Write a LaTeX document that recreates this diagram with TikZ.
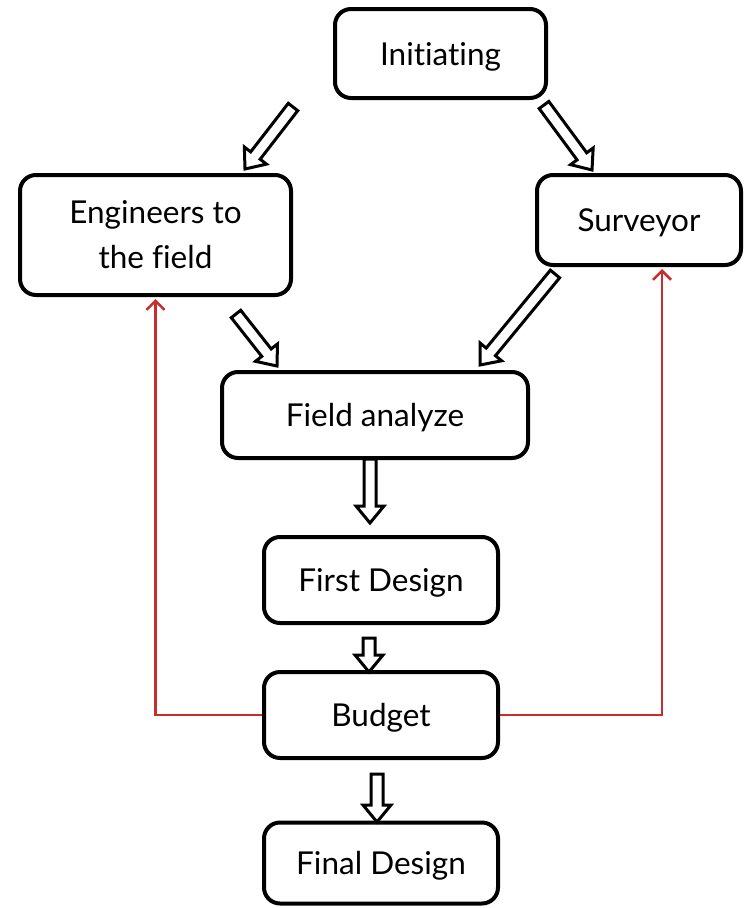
\documentclass[tikz,border=0pt]{standalone}
\usepackage{fontspec}
\setmainfont{Lato}[Ligatures=NoCommon]
\usetikzlibrary{calc,arrows.meta}
\definecolor{fbred}{RGB}{200,45,45}
\newcommand{\hw}{6pt}
\newcommand{\hW}{14pt}
\newcommand{\hh}{17pt}
\newcommand{\hollowarr}[2]{%
  \coordinate (ha-m) at ($(#2)!\hh!(#1)$);
  \draw[hollowarrow] ($(#1)!\hw!90:(#2)$) -- ($(ha-m)!\hw!90:(#2)$) --
    ($(ha-m)!\hW!90:(#2)$) -- (#2) -- ($(ha-m)!\hW!-90:(#2)$) --
    ($(ha-m)!\hw!-90:(#2)$) -- ($(#1)!\hw!-90:(#2)$) -- cycle;
}
\begin{document}
\begin{tikzpicture}[x=1pt,y=-1pt,
  box/.style={draw, line width=4pt, rounded corners=16pt, fill=white,
    align=center, inner sep=0pt, font=\fontsize{31.5}{45}\selectfont},
  oneline/.style={text height=26.5pt, text depth=3.5pt},
  hollowarrow/.style={draw, fill=white, line width=3pt, line join=miter, miter limit=10},
  feedback/.style={draw=fbred, line width=2.5pt, -{Straight Barb[length=9pt,width=18pt]}}]
\useasboundingbox (0,0) rectangle (745,908);
\node[box, oneline, minimum width=211pt, minimum height=89pt] (init) at (440.5,53.5) {Initiating};
\node[box, minimum width=271pt, minimum height=120pt] (eng) at (155.5,235) {Engineers to\\the field};
\node[box, oneline, minimum width=204pt, minimum height=90pt] (surv) at (639,220) {Surveyor};
\node[box, oneline, minimum width=306pt, minimum height=86pt] (field) at (375,415) {Field analyze};
\node[box, oneline, minimum width=234pt, minimum height=86pt] (first) at (381,580) {First Design};
\node[box, oneline, minimum width=234pt, minimum height=86pt] (budget) at (381,715) {Budget};
\node[box, oneline, minimum width=234pt, minimum height=81pt] (final) at (381,863) {Final Design};
% hollow arrow end points
\coordinate (a1s) at (293,107); \coordinate (a1e) at (245,169);
\coordinate (a2s) at (544,105); \coordinate (a2e) at (592,170);
\coordinate (a3s) at (236,314); \coordinate (a3e) at (277,366);
\coordinate (a4s) at (555,274); \coordinate (a4e) at (480,365);
\coordinate (a5s) at (370,459); \coordinate (a5e) at (370,523);
\coordinate (a6s) at (369,638); \coordinate (a6e) at (369,672);
\coordinate (a7s) at (377,774); \coordinate (a7e) at (377,822);
\hollowarr{a1s}{a1e}
\hollowarr{a2s}{a2e}
\hollowarr{a3s}{a3e}
\hollowarr{a4s}{a4e}
\hollowarr{a5s}{a5e}
\hollowarr{a6s}{a6e}
\hollowarr{a7s}{a7e}
% feedback lines
\draw[feedback] (budget.west) -| ($(eng.south)+(0,2)$);
\draw[feedback] (budget.east) -| ($(surv.south west)+(127,2)$);
\end{tikzpicture}
\end{document}
